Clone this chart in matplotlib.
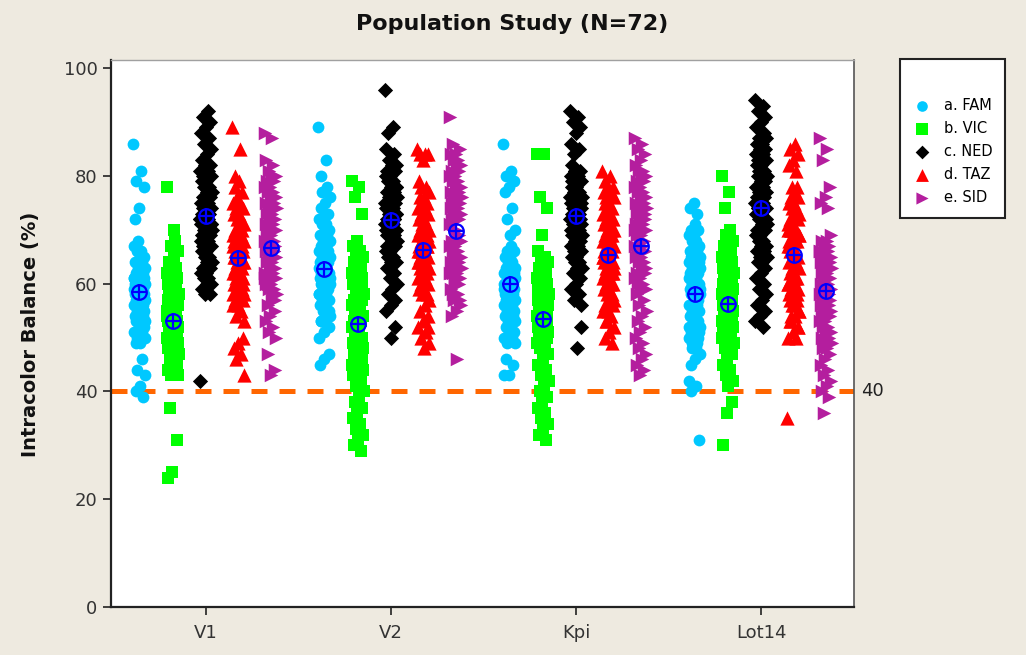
import numpy as np
import matplotlib
matplotlib.use('Agg')
import matplotlib.pyplot as plt

# Individual value plot of intracolor balance, 72 samples per group

categories = ['V1', 'V2', 'Kpi', 'Lot14']
seriesNames = ['a. FAM', 'b. VIC', 'c. NED', 'd. TAZ', 'e. SID']

# a. FAM
famV1 = [86, 81, 79, 78, 74, 72, 46, 44, 43, 41, 40, 39,
         68, 67, 66, 66, 65, 65, 64, 64, 63, 63, 62, 62, 62, 61, 61, 61, 60, 60, 60, 60,
         59, 59, 59, 59, 58, 58, 58, 58, 58, 57, 57, 57, 57, 56, 56, 56, 56, 55, 55, 55,
         54, 54, 54, 53, 53, 53, 52, 52, 51, 51, 50, 50, 49, 49, 53, 53, 61, 63, 62, 61]
famV2 = [89, 83, 80, 47, 46, 45,
         78, 77, 76, 75, 74, 73, 72, 72, 71, 71, 70, 70, 69, 69, 68, 68, 67, 67, 66, 66, 66, 65,
         65, 65, 64, 64, 64, 63, 63, 63, 62, 62, 62, 61, 61, 61, 60, 60, 60, 59, 59, 58, 58, 57,
         57, 56, 56, 55, 55, 54, 54, 53, 52, 51, 50, 60, 62, 61, 60, 53, 52, 59, 58, 54, 56, 55]
famKpi = [86, 81, 80, 79, 78, 77, 74, 72, 70, 69, 46, 45, 43, 43,
          67, 66, 66, 65, 65, 64, 64, 63, 63, 63, 62, 62, 62, 61, 61, 61, 60, 60, 60, 60, 59, 59,
          59, 59, 58, 58, 58, 58, 57, 57, 57, 57, 56, 56, 56, 55, 55, 55, 54, 54, 53, 53, 52, 52,
          51, 51, 50, 50, 49, 49, 62, 62, 58, 59, 60, 57, 56, 61]
famLot14 = [42, 41, 40, 31,
            75, 74, 73, 60, 59, 71, 70, 70, 69, 69, 68, 68, 67, 67, 66, 66, 66, 65, 65, 65, 64, 64,
            64, 63, 63, 63, 62, 62, 62, 61, 61, 61, 60, 60, 60, 59, 59, 59, 58, 58, 58, 57, 57, 56,
            56, 55, 55, 54, 54, 53, 53, 52, 52, 51, 51, 50, 50, 49, 48, 47, 46, 45, 50, 51, 52, 48, 49, 47]

# b. VIC
vicV1 = [78, 70, 37, 31, 25, 24,
         68, 67, 66, 65, 64, 63, 63, 62, 62, 61, 61, 60, 60, 59, 59, 58, 58, 58, 57, 57, 57, 56,
         56, 56, 55, 55, 55, 54, 54, 54, 54, 53, 53, 53, 52, 52, 52, 51, 51, 51, 50, 50, 50, 49,
         49, 49, 48, 48, 47, 47, 46, 46, 45, 45, 44, 44, 43, 43, 50, 49, 48, 50, 55, 56, 53, 52]
vicV2 = [79, 78, 76, 73,
         68, 67, 66, 65, 65, 64, 64, 63, 63, 62, 62, 61, 61, 60, 60, 59, 59, 58, 58, 57, 57, 56,
         56, 55, 55, 54, 54, 53, 53, 52, 52, 51, 51, 50, 50, 49, 49, 48, 48, 47, 47, 46, 46, 45,
         45, 44, 44, 43, 43, 42, 41, 40, 39, 38, 37, 36, 35, 34, 33, 32, 31, 30, 29, 57, 56, 55, 64, 60]
vicKpi = [84, 84, 76, 74, 69,
          66, 65, 64, 64, 63, 63, 62, 62, 61, 61, 60, 60, 60, 59, 59, 59, 58, 58, 58, 57, 57, 57,
          56, 56, 56, 55, 55, 55, 54, 54, 54, 53, 53, 53, 52, 52, 52, 51, 51, 50, 50, 49, 49, 48,
          48, 47, 46, 45, 44, 43, 42, 41, 40, 39, 38, 37, 36, 35, 34, 33, 32, 31, 48, 49, 47, 55, 54]
vicLot14 = [80, 77, 74, 38, 36, 30,
            70, 69, 68, 67, 67, 66, 66, 65, 65, 64, 64, 63, 63, 63, 62, 62, 62, 61, 61, 61, 60, 60,
            60, 59, 59, 59, 58, 58, 58, 57, 57, 57, 56, 56, 56, 55, 55, 55, 54, 54, 54, 53, 53, 52,
            52, 51, 51, 50, 50, 49, 49, 48, 47, 46, 45, 44, 43, 42, 41, 58, 47, 49, 50, 50, 57, 56]

# c. NED
nedV1 = [42,
         92, 91, 90, 89, 88, 87, 86, 85, 84, 83, 82, 82, 81, 81, 80, 80, 79, 79, 78, 78, 77, 77,
         76, 76, 75, 75, 75, 74, 74, 74, 73, 73, 73, 72, 72, 72, 71, 71, 71, 70, 70, 70, 69, 69,
         69, 68, 68, 68, 67, 67, 66, 66, 65, 65, 64, 64, 63, 63, 62, 62, 61, 61, 60, 60, 59, 58,
         58, 72, 73, 74, 71]
nedV2 = [96, 89, 88, 52, 50,
         85, 84, 83, 82, 82, 81, 81, 80, 80, 79, 79, 78, 78, 77, 77, 76, 76, 75, 75, 75, 74, 74,
         74, 73, 73, 73, 72, 72, 72, 71, 71, 71, 70, 70, 70, 69, 69, 68, 68, 67, 67, 66, 66, 65,
         65, 64, 64, 63, 62, 61, 60, 59, 58, 57, 56, 55, 72, 71, 73, 70, 69, 68, 74, 75, 76, 77, 78]
nedKpi = [92, 91, 90, 89, 88, 86, 85, 84, 52, 48,
          82, 81, 81, 80, 80, 79, 79, 78, 78, 77, 77, 76, 76, 76, 75, 75, 75, 74, 74, 74, 73, 73,
          73, 72, 72, 72, 71, 71, 71, 70, 70, 70, 69, 69, 69, 68, 68, 67, 67, 66, 66, 65, 65, 64,
          64, 63, 63, 62, 61, 60, 59, 58, 57, 56, 70, 79, 72, 81, 76, 77, 74, 75]
nedLot14 = [94, 93, 92, 91, 90, 89, 88, 87, 87, 86, 86, 85, 85, 84, 84, 83, 83, 82, 82, 81,
            81, 80, 80, 80, 79, 79, 78, 78, 77, 77, 76, 76, 76, 75, 75, 75, 74, 74, 73, 73,
            72, 72, 71, 71, 70, 70, 69, 69, 68, 68, 67, 67, 66, 66, 65, 65, 64, 64, 63, 62,
            61, 60, 59, 58, 57, 56, 55, 54, 53, 52, 74, 72]

# d. TAZ
tazV1 = [89, 85, 80, 50, 49, 48, 47, 46, 43,
         79, 78, 77, 76, 75, 75, 74, 74, 73, 73, 72, 72, 71, 71, 70, 70, 70, 69, 69, 69, 68,
         68, 68, 67, 67, 67, 66, 66, 66, 65, 65, 65, 64, 64, 64, 63, 63, 63, 62, 62, 61, 61,
         60, 60, 59, 59, 58, 58, 57, 57, 56, 56, 55, 54, 53, 66, 65, 64, 60, 58, 62, 62, 60]
tazV2 = [85, 84, 84, 84, 83,
         79, 78, 78, 77, 76, 76, 75, 75, 74, 74, 73, 73, 72, 72, 71, 71, 70, 70, 70, 69, 69, 69,
         68, 68, 68, 67, 67, 67, 66, 66, 66, 65, 65, 65, 64, 64, 64, 63, 63, 63, 62, 62, 61, 61,
         60, 60, 59, 59, 58, 58, 57, 56, 55, 54, 53, 52, 51, 50, 49, 48, 66, 67, 65, 64, 63, 62, 52]
tazKpi = [81, 80, 79, 78, 78, 77, 77, 76, 76, 75, 75, 74, 74, 73, 73, 72, 72, 71, 71, 70,
          70, 70, 69, 69, 69, 68, 68, 68, 67, 67, 67, 66, 66, 66, 65, 65, 65, 64, 64, 64,
          63, 63, 63, 62, 62, 62, 61, 61, 60, 60, 60, 59, 59, 58, 58, 57, 57, 56, 56, 55,
          55, 54, 53, 52, 51, 50, 49, 53, 65, 64, 63, 62]
tazLot14 = [35,
            86, 85, 84, 83, 82, 81, 70, 69, 68, 67, 78, 78, 70, 77, 76, 76, 75, 75, 74, 74, 73, 73,
            72, 72, 71, 71, 70, 70, 69, 69, 68, 68, 67, 67, 66, 66, 65, 65, 64, 64, 63, 63, 62, 62,
            61, 61, 60, 60, 59, 59, 58, 58, 57, 56, 55, 54, 53, 52, 51, 50, 50, 54, 55, 56, 57, 58,
            59, 60, 61, 53, 52]

# e. SID
sidV1 = [88, 87, 47, 44, 43,
         83, 82, 81, 80, 80, 79, 79, 78, 78, 77, 77, 76, 76, 75, 75, 74, 74, 73, 73, 72, 72, 71,
         71, 70, 70, 69, 69, 68, 68, 68, 67, 67, 67, 66, 66, 66, 65, 65, 64, 64, 63, 63, 62, 62,
         61, 61, 60, 60, 59, 59, 58, 57, 56, 55, 54, 53, 52, 51, 50, 67, 68, 66, 65, 61, 58, 60, 57]
sidV2 = [91, 46,
         86, 85, 84, 84, 83, 83, 82, 82, 81, 81, 80, 80, 79, 79, 78, 78, 77, 77, 76, 76,
         75, 75, 75, 74, 74, 74, 73, 73, 73, 72, 72, 65, 71, 64, 71, 63, 70, 62, 69, 66,
         68, 68, 68, 68, 67, 67, 66, 66, 65, 65, 64, 64, 63, 63, 62, 62, 61, 60, 59, 58,
         57, 56, 55, 54, 60, 61, 62, 63, 58, 57]
sidKpi = [87, 86, 85, 84, 83, 82, 81, 81, 80, 80, 79, 79, 78, 78, 77, 77, 76, 76, 75, 75,
          74, 74, 73, 73, 72, 72, 71, 71, 70, 70, 69, 69, 68, 68, 67, 67, 66, 66, 65, 65,
          64, 64, 63, 63, 62, 62, 61, 61, 60, 60, 59, 59, 58, 57, 56, 55, 54, 53, 52, 51,
          50, 49, 48, 47, 46, 45, 44, 43, 70, 72, 74, 73]
sidLot14 = [87, 85, 83, 78, 76, 75, 74, 36,
            69, 68, 68, 67, 67, 66, 66, 65, 65, 64, 64, 63, 63, 63, 62, 62, 61, 61, 60, 60, 60, 59,
            59, 59, 58, 58, 58, 57, 57, 57, 56, 56, 56, 55, 55, 55, 54, 54, 53, 53, 52, 52, 51, 51,
            50, 50, 49, 49, 48, 48, 47, 46, 45, 44, 43, 42, 41, 40, 39, 66, 66, 65, 64, 64]

fam = [famV1, famV2, famKpi, famLot14]
vic = [vicV1, vicV2, vicKpi, vicLot14]
ned = [nedV1, nedV2, nedKpi, nedLot14]
taz = [tazV1, tazV2, tazKpi, tazLot14]
sid = [sidV1, sidV2, sidKpi, sidLot14]
allSeries = [fam, vic, ned, taz, sid]

refValue = 40

# styling per series
colors = ['#00C8FF', '#00FF00', '#000000', '#FF0000', '#B41E9E']
markers = ['o', 's', 'D', '^', '>']
sizes = [72, 80, 60, 105, 95]
offsets = [-0.36, -0.18, 0.0, 0.175, 0.35]
bgColor = '#EEEAE0'

plt.rcParams['font.family'] = ['DejaVu Sans']

fig = plt.figure(figsize=(10.26, 6.55), dpi=100, facecolor=bgColor)
ax = fig.add_axes([0.108, 0.0733, 0.724, 0.835])
ax.set_facecolor('white')

# reference line behind the points
ax.axhline(refValue, color='#FF6600', linewidth=3.6, dashes=(3.2, 2.4), zorder=1)
ax.text(1.01, refValue, str(refValue), transform=ax.get_yaxis_transform(),
        ha='left', va='center', fontsize=13, color='#222222')

# jittered individual values, deterministic spread
for s, groups in enumerate(allSeries):
    for c, values in enumerate(groups):
        n = len(values)
        jitter = ((np.arange(n) * 0.6180339887) % 1.0 - 0.5) * 0.065
        xs = c + offsets[s] + jitter
        ax.scatter(xs, values, s=sizes[s], marker=markers[s], color=colors[s],
                   linewidths=0, zorder=2, label=seriesNames[s] if c == 0 else None)

# group means
for s, groups in enumerate(allSeries):
    for c, values in enumerate(groups):
        m = np.mean(values)
        ax.plot(c + offsets[s], m, marker='o', markersize=10.5, mfc='none', mec='#0000FF',
                mew=1.6, zorder=4)
        ax.plot(c + offsets[s], m, marker='+', markersize=12, mec='#0000FF', mew=1.6, zorder=4)

ax.set_xlim(-0.515, 3.5)
ax.set_ylim(0, 101.5)
ax.set_xticks(range(len(categories)))
ax.set_xticklabels(categories)
ax.set_yticks([0, 20, 40, 60, 80, 100])
ax.tick_params(axis='both', direction='out', length=6, width=1.2, labelsize=13,
               colors='#222222', labelcolor='#333333')
ax.tick_params(axis='x', pad=6)

for side in ['left', 'bottom']:
    ax.spines[side].set_color('#222222')
    ax.spines[side].set_linewidth(1.6)
ax.spines['top'].set_color('#A0A0A0')
ax.spines['top'].set_linewidth(1.0)
ax.spines['right'].set_color('#555555')
ax.spines['right'].set_linewidth(1.2)

fig.text(0.499, 0.963, 'Population Study (N=72)', ha='center', va='center',
         fontsize=16, fontweight='bold', color='#111111')
fig.text(0.03, 0.49, 'Intracolor Balance (%)', rotation=90, ha='center', va='center',
         fontsize=14, fontweight='bold', color='#111111')

leg = ax.legend(loc='upper left', bbox_to_anchor=(0.877, 0.910), bbox_transform=fig.transFigure,
                title=' ', fontsize=10.5, frameon=True, fancybox=False, borderaxespad=0,
                handletextpad=0.9, labelspacing=0.55, borderpad=0.9, handlelength=1.2,
                markerscale=0.9, framealpha=1.0)
leg.get_frame().set_edgecolor('#222222')
leg.get_frame().set_linewidth(1.5)
leg.get_title().set_fontsize(12)

plt.savefig('out.png', dpi=100, facecolor=bgColor)
